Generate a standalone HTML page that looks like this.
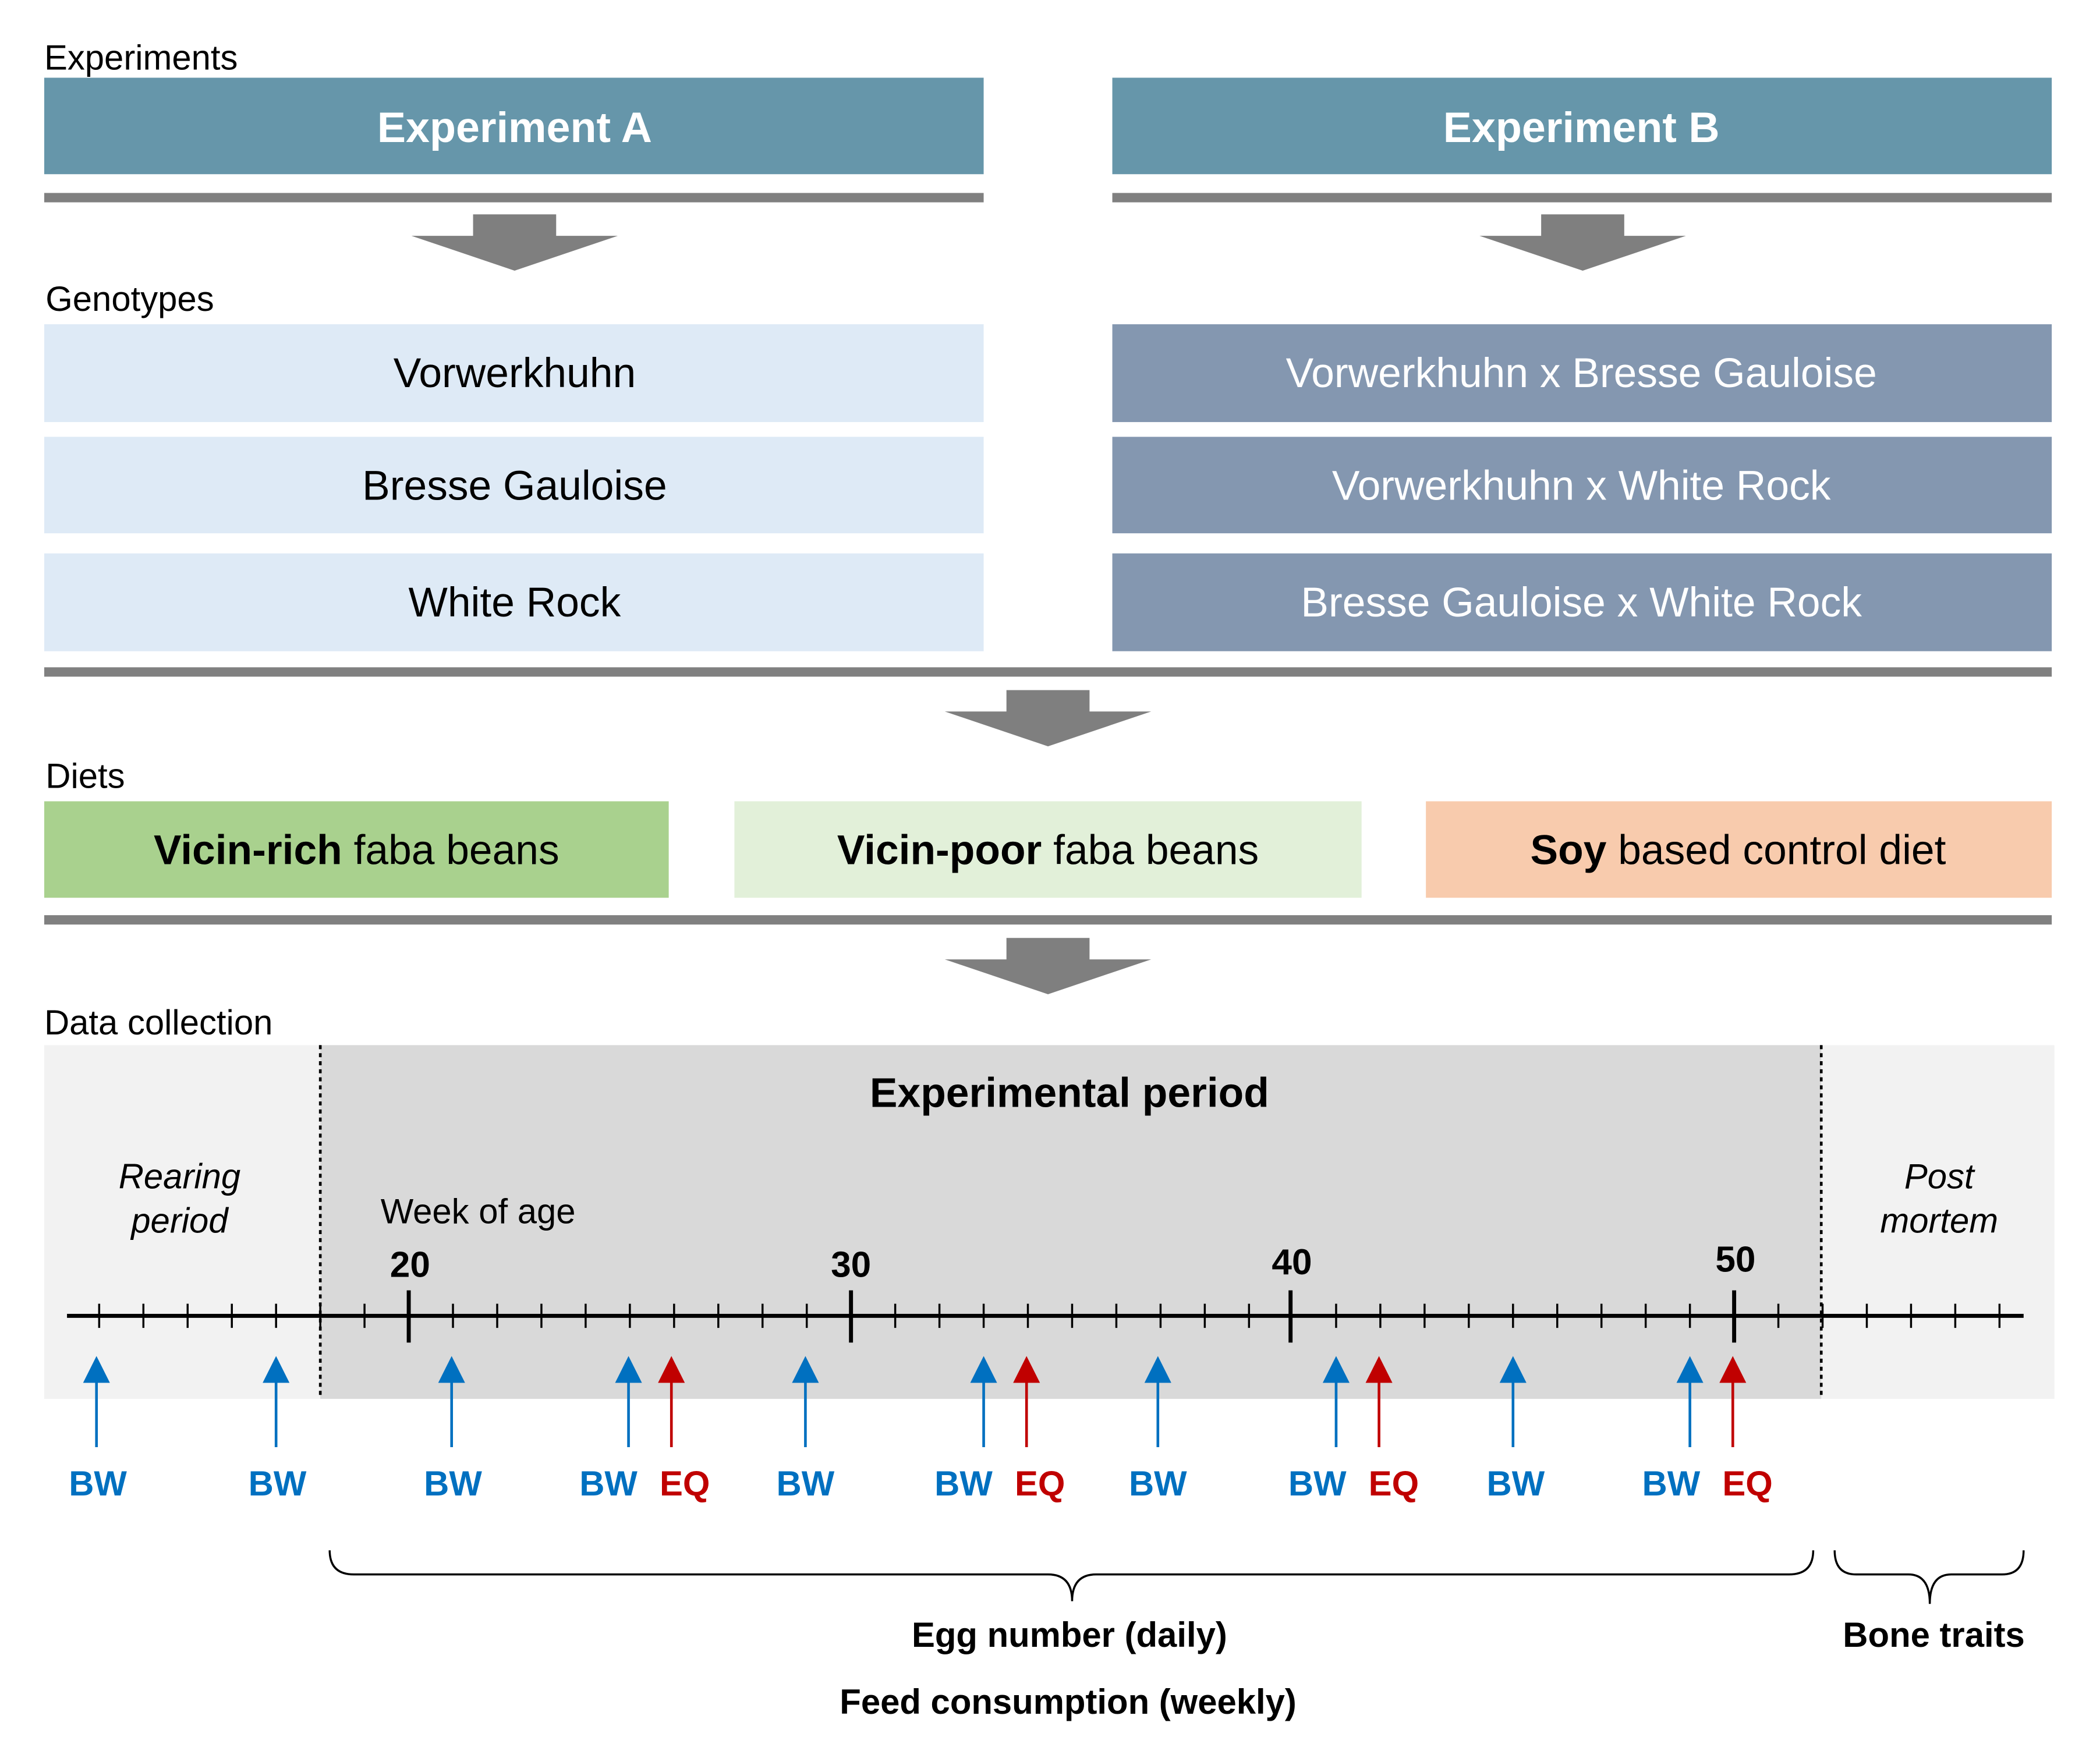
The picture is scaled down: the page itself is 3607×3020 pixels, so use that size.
<!DOCTYPE html>
<html><head><meta charset="utf-8"><style>
html,body{margin:0;padding:0;background:#fff}
svg{display:block}
text{font-family:"Liberation Sans",sans-serif}
</style></head><body>
<svg width="3607" height="3020" viewBox="0 0 1567 1312" preserveAspectRatio="none" xmlns="http://www.w3.org/2000/svg">
<defs>
<g id="dn"><polygon points="-31,0 31,0 31,16 77,16 0,42 -77,16 -31,16" fill="#7f7f7f"/></g>
</defs>
<text x="33" y="52" font-size="26">Experiments</text>
<rect x="33" y="58" width="701" height="72" fill="#6696aa"/>
<rect x="830" y="58" width="701" height="72" fill="#6696aa"/>
<text x="384" y="106" font-size="32" font-weight="bold" fill="#fff" text-anchor="middle">Experiment A</text>
<text x="1180" y="106" font-size="32" font-weight="bold" fill="#fff" text-anchor="middle">Experiment B</text>
<rect x="33" y="144" width="701" height="7" fill="#808080"/>
<rect x="830" y="144" width="701" height="7" fill="#808080"/>
<use href="#dn" x="384" y="160"/>
<use href="#dn" x="1181" y="160"/>
<text x="34" y="232" font-size="26">Genotypes</text>
<g font-size="31" text-anchor="middle">
<rect x="33" y="242" width="701" height="73" fill="#deeaf6"/>
<rect x="33" y="326" width="701" height="72" fill="#deeaf6"/>
<rect x="33" y="413" width="701" height="73" fill="#deeaf6"/>
<text x="384" y="289">Vorwerkhuhn</text>
<text x="384" y="373">Bresse Gauloise</text>
<text x="384" y="460">White Rock</text>
<rect x="830" y="242" width="701" height="73" fill="#8497b0"/>
<rect x="830" y="326" width="701" height="72" fill="#8497b0"/>
<rect x="830" y="413" width="701" height="73" fill="#8497b0"/>
<g fill="#fff">
<text x="1180" y="289">Vorwerkhuhn x Bresse Gauloise</text>
<text x="1180" y="373">Vorwerkhuhn x White Rock</text>
<text x="1180" y="460">Bresse Gauloise x White Rock</text>
</g>
</g>
<rect x="33" y="498" width="1498" height="7" fill="#808080"/>
<use href="#dn" x="782" y="515"/>
<text x="34" y="588" font-size="26">Diets</text>
<rect x="33" y="598" width="466" height="72" fill="#a9d18e"/>
<rect x="548" y="598" width="468" height="72" fill="#e2f0d9"/>
<rect x="1064" y="598" width="467" height="72" fill="#f8cbad"/>
<g font-size="31" text-anchor="middle">
<text x="266" y="645"><tspan font-weight="bold">Vicin-rich</tspan> faba beans</text>
<text x="782" y="645"><tspan font-weight="bold">Vicin-poor</tspan> faba beans</text>
<text x="1297" y="645"><tspan font-weight="bold">Soy</tspan> based control diet</text>
</g>
<rect x="33" y="683" width="1498" height="7" fill="#808080"/>
<use href="#dn" x="782" y="700"/>
<text x="33" y="772" font-size="26">Data collection</text>
<rect x="33" y="780" width="1500" height="264" fill="#f2f2f2"/>
<rect x="239" y="780" width="1120" height="264" fill="#d9d9d9"/>
<line x1="239" y1="780" x2="239" y2="1042" stroke="#000" stroke-width="2" stroke-dasharray="3,3"/>
<line x1="1359" y1="780" x2="1359" y2="1042" stroke="#000" stroke-width="2" stroke-dasharray="3,3"/>
<text x="798" y="826" font-size="31" font-weight="bold" text-anchor="middle">Experimental period</text>
<g font-size="26" font-style="italic" text-anchor="middle">
<text x="134" y="887">Rearing</text><text x="134" y="920">period</text>
<text x="1447" y="887">Post</text><text x="1447" y="920">mortem</text>
</g>
<text x="284" y="913" font-size="26">Week of age</text>
<g font-size="27" font-weight="bold" text-anchor="middle">
<text x="306" y="953">20</text><text x="635" y="953">30</text><text x="964" y="951">40</text><text x="1295" y="949">50</text>
</g>
<line x1="50" y1="982" x2="1510" y2="982" stroke="#000" stroke-width="3"/>
<g stroke="#000" stroke-width="1.5">
<path d="M74 973V991M107 973V991M140 973V991M173 973V991M206 973V991M239 973V991M272 973V991M338 973V991M371 973V991M404 973V991M437 973V991M470 973V991M503 973V991M536 973V991M569 973V991M602 973V991M668 973V991M701 973V991M734 973V991M767 973V991M800 973V991M833 973V991M866 973V991M899 973V991M932 973V991M997 973V991M1030 973V991M1063 973V991M1096 973V991M1129 973V991M1162 973V991M1195 973V991M1228 973V991M1261 973V991M1327 973V991M1360 973V991M1393 973V991M1426 973V991M1459 973V991M1492 973V991"/>
</g>
<g stroke="#000" stroke-width="3">
<path d="M305 963V1002M635 963V1002M963 963V1002M1294 963V1002"/>
</g>
<g fill="#0070c0" stroke="#0070c0">
<path d="M72 1080V1028M206 1080V1028M337 1080V1028M469 1080V1028M601 1080V1028M734 1080V1028M864 1080V1028M997 1080V1028M1129 1080V1028M1261 1080V1028" stroke-width="2"/>
<g stroke="none">
<polygon points="62,1032 72,1012 82,1032"/><polygon points="196,1032 206,1012 216,1032"/><polygon points="327,1032 337,1012 347,1032"/><polygon points="459,1032 469,1012 479,1032"/><polygon points="591,1032 601,1012 611,1032"/><polygon points="724,1032 734,1012 744,1032"/><polygon points="854,1032 864,1012 874,1032"/><polygon points="987,1032 997,1012 1007,1032"/><polygon points="1119,1032 1129,1012 1139,1032"/><polygon points="1251,1032 1261,1012 1271,1032"/>
</g></g>
<g fill="#c00000" stroke="#c00000">
<path d="M501 1080V1028M766 1080V1028M1029 1080V1028M1293 1080V1028" stroke-width="2"/>
<g stroke="none">
<polygon points="491,1032 501,1012 511,1032"/><polygon points="756,1032 766,1012 776,1032"/><polygon points="1019,1032 1029,1012 1039,1032"/><polygon points="1283,1032 1293,1012 1303,1032"/>
</g></g>
<g font-size="26" font-weight="bold" text-anchor="middle" fill="#0070c0">
<text x="73" y="1116">BW</text><text x="207" y="1116">BW</text><text x="338" y="1116">BW</text><text x="454" y="1116">BW</text><text x="601" y="1116">BW</text><text x="719" y="1116">BW</text><text x="864" y="1116">BW</text><text x="983" y="1116">BW</text><text x="1131" y="1116">BW</text><text x="1247" y="1116">BW</text>
</g>
<g font-size="26" font-weight="bold" text-anchor="middle" fill="#c00000">
<text x="511" y="1116">EQ</text><text x="776" y="1116">EQ</text><text x="1040" y="1116">EQ</text><text x="1304" y="1116">EQ</text>
</g>
<g fill="none" stroke="#000" stroke-width="1.5">
<path d="M246 1157 Q246 1175 264 1175 L782 1175 Q800 1175 800 1195 Q800 1175 818 1175 L1335 1175 Q1353 1175 1353 1157"/>
<path d="M1369 1157 Q1369 1175 1385 1175 L1424 1175 Q1440 1175 1440 1197 Q1440 1175 1456 1175 L1494 1175 Q1510 1175 1510 1157"/>
</g>
<g font-size="26" font-weight="bold" text-anchor="middle">
<text x="798" y="1229">Egg number (daily)</text>
<text x="797" y="1279">Feed consumption (weekly)</text>
<text x="1443" y="1229">Bone traits</text>
</g>
</svg>
</body></html>
